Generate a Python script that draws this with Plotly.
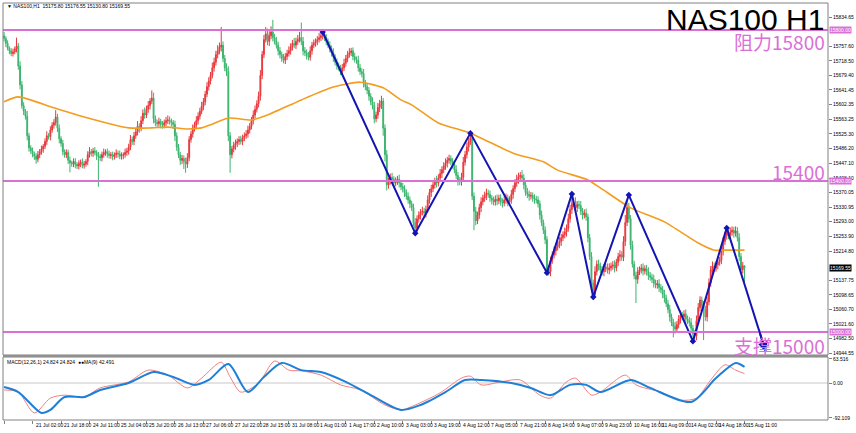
import plotly.graph_objects as go

# ---------------- data ----------------
first_open = 15785
closes = [
 15778, 15765, 15752, 15745, 15738, 15742, 15750, 15758, 15705, 15655,
 15600, 15585, 15572, 15520, 15488, 15480, 15472, 15466, 15458, 15470,
 15478, 15485, 15492, 15505, 15520, 15518, 15535, 15548, 15555, 15570,
 15540, 15512, 15500, 15478, 15470, 15476, 15455, 15448, 15446, 15452,
 15444, 15440, 15447, 15450, 15442, 15445, 15452, 15470, 15478, 15474,
 15480, 15476, 15468, 15465, 15462, 15470, 15476, 15478, 15472, 15468,
 15470, 15465, 15470, 15474, 15472, 15466, 15468, 15470, 15476, 15480,
 15490, 15510, 15505, 15520, 15530, 15545, 15540, 15560, 15580, 15575,
 15590, 15600, 15612, 15620, 15565, 15555, 15552, 15558, 15550, 15548,
 15555, 15560, 15562, 15558, 15555, 15550, 15520, 15490, 15470, 15455,
 15460, 15452, 15445, 15462, 15510, 15525, 15540, 15548, 15560, 15572,
 15585, 15598, 15610, 15630, 15650, 15665, 15680, 15700, 15715, 15735,
 15745, 15755, 15760, 15725, 15700, 15690, 15520, 15470, 15485, 15495,
 15500, 15505, 15510, 15505, 15515, 15520, 15525, 15535, 15545, 15560,
 15575, 15590, 15605, 15625, 15680, 15735, 15775, 15790, 15770, 15785,
 15795, 15780, 15770, 15760, 15745, 15735, 15725, 15720, 15730, 15738,
 15745, 15755, 15765, 15760, 15770, 15775, 15780, 15770, 15745, 15740,
 15732, 15728, 15745, 15760, 15765, 15770, 15775, 15780, 15785, 15790,
 15780, 15770, 15760, 15750, 15740, 15728, 15715, 15705, 15700, 15690,
 15700, 15712, 15725, 15735, 15740, 15745, 15730, 15722, 15720, 15700,
 15690, 15685, 15660, 15650, 15640, 15625, 15610, 15600, 15565, 15575,
 15595, 15605, 15612, 15540, 15470, 15390, 15400, 15410, 15405, 15395,
 15400, 15405, 15395, 15385, 15380, 15370, 15360, 15350, 15340, 15330,
 15290, 15275, 15300, 15310, 15318, 15320, 15315, 15325, 15350, 15370,
 15380, 15390, 15400, 15395, 15408, 15420, 15430, 15440, 15448, 15455,
 15460, 15452, 15445, 15430, 15415, 15400, 15398, 15410, 15450, 15470,
 15490, 15505, 15515, 15360, 15320, 15295, 15310, 15330, 15345, 15355,
 15362, 15368, 15365, 15355, 15350, 15345, 15352, 15348, 15355, 15345,
 15342, 15350, 15355, 15345, 15350, 15365, 15380, 15395, 15405, 15412,
 15415, 15408, 15390, 15370, 15365, 15360, 15362, 15355, 15352, 15350,
 15340, 15310, 15290, 15270, 15245, 15165, 15160, 15190, 15205, 15215,
 15225, 15232, 15240, 15250, 15258, 15265, 15275, 15300, 15325, 15340,
 15345, 15330, 15338, 15335, 15320, 15310, 15315, 15305, 15250, 15200,
 15130, 15100, 15160, 15180, 15175, 15165, 15160, 15168, 15172, 15165,
 15170, 15175, 15178, 15170, 15185, 15200, 15205, 15198, 15240, 15290,
 15330, 15300, 15230, 15180, 15150, 15140, 15160, 15165, 15170, 15162,
 15168, 15160, 15150, 15145, 15140, 15130, 15125, 15128, 15118, 15112,
 15100, 15090, 15075, 15060, 15040, 15025, 15015, 15008, 15020, 15035,
 15045, 15040, 15048, 15035, 15030, 15025, 15010, 14995, 14990, 15030,
 15065, 15085, 15070, 15060, 15040, 15080, 15130, 15165, 15175, 15170,
 15178, 15185, 15190, 15215, 15240, 15255, 15262, 15258, 15265, 15270,
 15262, 15268, 15250, 15200, 15165, 15175.8, 15169.55,
]
hi_wick = [
 10, 6, 8, 5, 7, 9, 6, 22, 8, 12, 10, 9, 6, 14, 8, 7, 9, 6, 8, 10,
 7, 9, 6, 8, 12, 7, 10, 8, 9, 18, 8, 10, 7, 9, 6, 8, 7, 10, 6, 8,
 9, 6, 8, 7, 10, 8, 6, 9, 12, 7, 8, 10, 6, 9, 7, 8, 10, 6, 8, 9,
 7, 8, 6, 10, 7, 9, 8, 6, 10, 8, 9, 12, 8, 10, 9, 14, 8, 12, 10, 15,
 10, 12, 8, 20, 14, 9, 8, 10, 7, 9, 8, 10, 12, 9, 8, 7, 10, 9, 8, 7,
 9, 8, 10, 12, 9, 8, 10, 9, 12, 10, 9, 12, 10, 9, 12, 10, 9, 14, 12, 10,
 15, 12, 48, 10, 9, 12, 14, 10, 8, 9, 10, 8, 9, 10, 8, 9, 10, 12, 9, 10,
 12, 10, 9, 12, 14, 10, 12, 18, 14, 12, 15, 32, 10, 12, 9, 10, 8, 12, 9, 10,
 12, 10, 9, 14, 10, 12, 15, 40, 12, 10, 9, 10, 12, 9, 10, 8, 9, 12, 8, 7,
 10, 9, 8, 10, 9, 12, 8, 10, 9, 8, 10, 12, 9, 10, 12, 8, 9, 10, 8, 12,
 10, 9, 12, 8, 10, 9, 8, 12, 10, 9, 12, 10, 14, 8, 10, 12, 9, 10, 12, 8,
 10, 9, 12, 8, 10, 9, 8, 10, 9, 8, 10, 12, 9, 10, 8, 12, 9, 10, 12, 9,
 10, 12, 9, 14, 10, 12, 9, 10, 12, 9, 10, 8, 9, 10, 12, 9, 10, 12, 14, 10,
 12, 10, 12, 9, 10, 12, 9, 10, 12, 9, 10, 12, 9, 10, 8, 9, 10, 12, 9, 10,
 9, 10, 12, 9, 10, 12, 9, 10, 12, 10, 9, 14, 10, 9, 12, 10, 9, 8, 10, 9,
 10, 9, 12, 8, 10, 9, 12, 10, 9, 12, 10, 9, 12, 10, 9, 12, 10, 14, 12, 20,
 10, 12, 9, 10, 12, 9, 10, 12, 9, 10, 12, 9, 14, 10, 12, 9, 10, 12, 9, 10,
 12, 9, 10, 12, 9, 10, 12, 9, 14, 20, 18, 12, 10, 12, 9, 10, 12, 9, 10, 12,
 9, 10, 12, 9, 10, 12, 9, 10, 12, 9, 10, 12, 9, 10, 12, 9, 10, 12, 9, 10,
 12, 9, 10, 12, 9, 10, 12, 9, 10, 14, 12, 10, 9, 12, 10, 14, 12, 10, 12, 9,
 10, 12, 9, 14, 12, 10, 12, 9, 12, 10, 9, 12, 10, 12, 9, 10, 1,
]
lo_wick = [
 8, 10, 6, 9, 7, 8, 6, 9, 10, 12, 8, 10, 9, 12, 10, 8, 9, 10, 12, 8,
 9, 8, 10, 7, 9, 8, 10, 7, 9, 8, 10, 12, 9, 10, 8, 9, 10, 25, 8, 9,
 10, 8, 9, 10, 8, 9, 7, 10, 8, 9, 10, 8, 12, 80, 9, 10, 8, 9, 10, 8,
 9, 10, 8, 9, 10, 8, 9, 10, 8, 9, 10, 8, 9, 10, 8, 9, 12, 8, 9, 10,
 8, 9, 10, 8, 12, 10, 9, 8, 10, 9, 8, 10, 9, 8, 10, 12, 14, 10, 9, 12,
 10, 20, 23, 10, 9, 8, 10, 9, 8, 10, 9, 8, 10, 9, 8, 10, 9, 8, 10, 9,
 10, 9, 12, 10, 9, 12, 14, 48, 10, 9, 12, 10, 9, 8, 10, 9, 8, 10, 9, 8,
 10, 9, 8, 10, 12, 10, 9, 8, 10, 12, 9, 10, 8, 9, 12, 10, 9, 8, 10, 9,
 8, 10, 9, 8, 10, 9, 8, 10, 12, 9, 10, 8, 9, 10, 8, 9, 10, 8, 9, 10,
 9, 10, 8, 9, 10, 12, 9, 10, 8, 9, 10, 8, 9, 10, 8, 9, 10, 8, 9, 10,
 9, 10, 12, 9, 10, 12, 9, 10, 12, 9, 10, 12, 14, 20, 18, 15, 10, 9, 12, 10,
 9, 10, 12, 9, 10, 12, 9, 10, 12, 9, 10, 13, 9, 10, 12, 9, 10, 12, 9, 10,
 12, 9, 10, 12, 9, 10, 12, 9, 10, 12, 9, 10, 12, 9, 10, 12, 9, 10, 12, 9,
 10, 12, 9, 10, 50, 12, 9, 10, 12, 9, 10, 12, 9, 10, 12, 9, 10, 12, 9, 10,
 12, 9, 10, 12, 9, 10, 12, 9, 10, 12, 9, 10, 12, 9, 10, 12, 9, 10, 12, 9,
 10, 12, 9, 10, 12, 9, 10, 12, 9, 10, 12, 9, 10, 12, 9, 10, 12, 9, 10, 12,
 9, 10, 12, 9, 10, 12, 9, 10, 12, 9, 10, 15, 9, 10, 12, 9, 10, 12, 9, 10,
 12, 9, 10, 12, 9, 10, 12, 9, 10, 12, 9, 10, 12, 9, 10, 63, 12, 9, 10, 12,
 9, 10, 12, 9, 10, 12, 9, 10, 12, 9, 10, 12, 9, 10, 12, 9, 29, 12, 9, 10,
 12, 9, 10, 12, 9, 10, 12, 9, 10, 12, 9, 10, 12, 81, 10, 12, 9, 10, 12, 9,
 10, 12, 9, 10, 12, 9, 10, 12, 9, 10, 12, 9, 10, 12, 9, 10, 39,
]

ma_bars = [0, 8, 28, 45, 70, 83, 92, 103, 111, 116, 126, 139, 148, 167, 185, 200,
           213, 223, 229, 244, 262, 286, 303, 311, 328, 335, 352, 371, 390, 399, 404, 416]
ma_vals = [15610, 15623, 15594, 15570, 15541, 15541, 15543, 15538, 15541, 15549, 15567,
           15562, 15575, 15615, 15649, 15662, 15647, 15615, 15602, 15554, 15527, 15474,
           15451, 15429, 15403, 15382, 15329, 15292, 15236, 15217, 15217, 15217]

zz_bars = [179, 231, 262, 305, 319, 331, 351, 387, 406, 428]
zz_vals = [15795, 15262, 15527, 15157, 15366, 15093, 15363, 14976, 15276, 14947]

macd_bars = [0, 8, 17, 26, 34, 45, 54, 70, 81, 92, 103, 111, 122, 127, 133, 143, 152, 160, 167,
             178, 189, 200, 214, 223, 231, 245, 257, 262, 268, 279, 290, 301, 307, 316, 321,
             330, 335, 349, 355, 369, 380, 389, 397, 405, 411, 416]
macd_vals = [-18.5, -24, -79, -40, -32, -37, -13, 3, 34, 21, -13, 13, 55, 16, -24, 0, 58, 34, 32,
             21, -5, -18, -58, -71, -58, -26, 13, 18, -5, 3, 8, -32, -40, 3, 13,
             -32, -24, 21, -5, -24, -45, -40, 8, 48, 34, 24.824]
sig_bars = [0, 8, 21, 26, 34, 45, 54, 70, 84, 95, 107, 115, 126, 137, 146, 156, 167,
            178, 192, 206, 223, 234, 248, 259, 268, 285, 296, 307, 318, 327, 335, 352, 363,
            386, 400, 411, 416]
sig_vals = [-10.6, -23.8, -79, -71, -37, -37, -18.5, 0, 29, 16, -5, 8, 50, -24, 16, 53, 34,
            29, 3, -32, -71, -58, -24, 8, 8, 0, -13, -32, -5, -5, -24, 8, -13,
            -50, 13, 53, 42.491]

x_tick_bars = list(range(0, 417, 16))
x_tick_labels = ["20 Jul 2023", "21 Jul 02:00", "21 Jul 18:00", "24 Jul 11:00", "25 Jul 04:00",
                 "25 Jul 20:00", "26 Jul 13:00", "27 Jul 06:00", "27 Jul 22:00", "28 Jul 15:00",
                 "31 Jul 08:00", "1 Aug 01:00", "1 Aug 17:00", "2 Aug 10:00", "3 Aug 03:00",
                 "3 Aug 19:00", "4 Aug 12:00", "7 Aug 05:00", "7 Aug 21:00", "8 Aug 14:00",
                 "9 Aug 07:00", "9 Aug 23:00", "10 Aug 16:00", "11 Aug 09:00", "14 Aug 02:00",
                 "14 Aug 18:00", "15 Aug 11:00"]
price_ticks = [15834.65, 15757.60, 15718.50, 15679.40, 15641.45, 15602.35, 15563.25, 15525.30,
               15486.20, 15447.10, 15408.10, 15370.05, 15330.95, 15293.00, 15253.90, 15214.80,
               15137.75, 15098.65, 15060.70, 15021.60, 14982.50, 14944.55]
macd_ticks = [63.516, 0.0, -92.109]
macd_tick_labels = ["63.516", "0.00", "-92.109"]
levels = [15800, 15400, 15000]
level_texts = ["阻力15800", "15400", "支撑15000"]
last_price = 15169.55

# ---------------- derived ----------------
bars = list(range(len(closes)))
opens = [first_open] + closes[:-1]
highs = [max(o, c) + w for o, c, w in zip(opens, closes, hi_wick)]
lows = [min(o, c) - w for o, c, w in zip(opens, closes, lo_wick)]

W, H = 856, 433
ML, MR, MT, MB = 3, 28, 3, 13
PH = H - MT - MB  # 417
X0, X1 = -0.6, 462.9


def py(pix):
    """pixel y (from top) -> paper fraction"""
    return (H - MB - pix) / PH


def px(bar):
    return (bar - X0) / (X1 - X0)


VIOLET = "#DA70D6"
BLUE = "#1414B4"
FONT = "Liberation Sans, Arial, sans-serif"

fig = go.Figure()
fig.add_trace(go.Candlestick(
    x=bars, open=opens, high=highs, low=lows, close=closes,
    increasing=dict(line=dict(color="#E8383D", width=1), fillcolor="#E8383D"),
    decreasing=dict(line=dict(color="#3CB46E", width=1), fillcolor="#3CB46E"),
    whiskerwidth=0, xaxis="x", yaxis="y", showlegend=False, hoverinfo="skip"))
fig.add_trace(go.Scatter(x=ma_bars, y=ma_vals, mode="lines", line=dict(color="#F39C1E", width=1.6, shape="spline", smoothing=0.6),
                         xaxis="x", yaxis="y", showlegend=False, hoverinfo="skip"))
fig.add_trace(go.Scatter(x=zz_bars[:-1], y=zz_vals[:-1], mode="lines+markers",
                         line=dict(color=BLUE, width=2), marker=dict(symbol="diamond", size=5, color=BLUE),
                         xaxis="x", yaxis="y", showlegend=False, hoverinfo="skip"))
fig.add_trace(go.Scatter(x=zz_bars[-2:], y=zz_vals[-2:], mode="lines",
                         line=dict(color=BLUE, width=2), xaxis="x", yaxis="y", showlegend=False, hoverinfo="skip"))
fig.add_annotation(x=zz_bars[-1], y=zz_vals[-1], ax=zz_bars[-1] - 4, ay=zz_vals[-1] + 4 * (zz_vals[-2] - zz_vals[-1]) / (zz_bars[-1] - zz_bars[-2]),
                   xref="x", yref="y", axref="x", ayref="y", text="", showarrow=True,
                   arrowhead=2, arrowsize=1, arrowwidth=2, arrowcolor=BLUE)

# MACD panel
fig.add_trace(go.Scatter(x=macd_bars, y=macd_vals, mode="lines", line=dict(color="#F08080", width=1, shape="spline", smoothing=0.8),
                         xaxis="x", yaxis="y2", showlegend=False, hoverinfo="skip"))
fig.add_trace(go.Scatter(x=sig_bars, y=sig_vals, mode="lines", line=dict(color="#1E7FD8", width=2, shape="spline", smoothing=0.8),
                         xaxis="x", yaxis="y2", showlegend=False, hoverinfo="skip"))

shapes = []
for lv in levels:
    shapes.append(dict(type="line", xref="paper", x0=0, x1=1, yref="y", y0=lv, y1=lv,
                       line=dict(color=VIOLET, width=2), layer="above"))
shapes.append(dict(type="line", xref="paper", x0=0, x1=1, yref="y2", y0=0, y1=0,
                   line=dict(color="#C8C8C8", width=1), layer="below"))
# frames
shapes.append(dict(type="rect", xref="paper", yref="paper", x0=0, x1=1, y0=py(355), y1=1,
                   line=dict(color="#808080", width=1)))
shapes.append(dict(type="rect", xref="paper", yref="paper", x0=0, x1=1, y0=0, y1=py(357),
                   line=dict(color="#808080", width=1)))
shapes.append(dict(type="rect", xref="paper", yref="paper", x0=0, x1=1, y0=py(357), y1=py(355),
                   fillcolor="#909090", line=dict(width=0)))

ann = []
# x tick labels (left aligned like MT4)
for b, t in zip(x_tick_bars, x_tick_labels):
    ann.append(dict(x=px(b), xref="paper", y=0, yref="paper", yshift=-5, text=t, showarrow=False,
                    xanchor="left", yanchor="middle", xshift=1, font=dict(size=5, color="#000", family=FONT)))
# level texts
level_text_y = [42, 171, 345]
for t, yy in zip(level_texts, level_text_y):
    ann.append(dict(x=1, xref="paper", y=py(yy), yref="paper", text=t, showarrow=False,
                    xanchor="right", yanchor="middle", xshift=-1,
                    font=dict(size=19, color=VIOLET, family="Noto Sans CJK SC, " + FONT)))
# level price boxes on axis
for lv in levels:
    ann.append(dict(x=1, xref="paper", y=lv, yref="y", text=f"{lv:.2f}", showarrow=False,
                    xanchor="left", yanchor="middle", xshift=1, bgcolor=VIOLET, borderpad=0,
                    font=dict(size=5, color="#FFFFFF", family=FONT)))
ann.append(dict(x=1, xref="paper", y=last_price, yref="y", text=f"{last_price:.2f}", showarrow=False,
                xanchor="left", yanchor="middle", xshift=1, bgcolor="#000000", borderpad=0,
                font=dict(size=5, color="#FFFFFF", family=FONT)))
# title
ann.append(dict(x=1, xref="paper", y=py(20), yref="paper", text="NAS100 H1", showarrow=False,
                xanchor="right", yanchor="middle", xshift=-2, font=dict(size=30, color="#000", family=FONT)))
ann.append(dict(x=0, xref="paper", y=py(6), yref="paper", text="▼ NAS100,H1  15175.80 15176.55 15130.80 15169.55",
                showarrow=False, xanchor="left", yanchor="middle", xshift=2, font=dict(size=5, color="#000", family=FONT)))
ann.append(dict(x=0, xref="paper", y=py(362), yref="paper", text="MACD(12,26,1) 24.824 24.824  ●●MA(9) 42.491",
                showarrow=False, xanchor="left", yanchor="middle", xshift=2, font=dict(size=5, color="#000", family=FONT)))

fig.update_layout(
    width=W, height=H, margin=dict(l=ML, r=MR, t=MT, b=MB, autoexpand=False),
    paper_bgcolor="#FFFFFF", plot_bgcolor="#FFFFFF",
    shapes=shapes, annotations=ann,
    xaxis=dict(range=[X0, X1], domain=[0, 1], anchor="y2", showgrid=False, zeroline=False,
               tickmode="array", tickvals=x_tick_bars, ticktext=[""] * len(x_tick_bars),
               ticks="outside", ticklen=3, tickcolor="#808080", rangeslider=dict(visible=False),
               showline=False, fixedrange=True),
    yaxis=dict(domain=[py(355), 1], range=[15879.7 - 2.649 * 355, 15879.7 - 2.649 * 3], side="right",
               anchor="x", showgrid=False, zeroline=False, tickmode="array", tickvals=price_ticks,
               ticktext=[f"{v:.2f}" for v in price_ticks], ticks="outside", ticklen=3, tickcolor="#808080",
               tickfont=dict(size=5, color="#000", family=FONT), showline=False),
    yaxis2=dict(domain=[0, py(357)], range=[(383 - 420) * 2.64, (383 - 357) * 2.64], side="right",
                anchor="x", showgrid=False, zeroline=False, tickmode="array", tickvals=macd_ticks,
                ticktext=macd_tick_labels, ticks="outside", ticklen=3, tickcolor="#808080",
                tickfont=dict(size=5, color="#000", family=FONT), showline=False),
    font=dict(family=FONT),
)
fig.write_html("out.html", config={"displayModeBar": False},
               post_script="document.body.style.margin='0';document.body.style.overflow='hidden';")
